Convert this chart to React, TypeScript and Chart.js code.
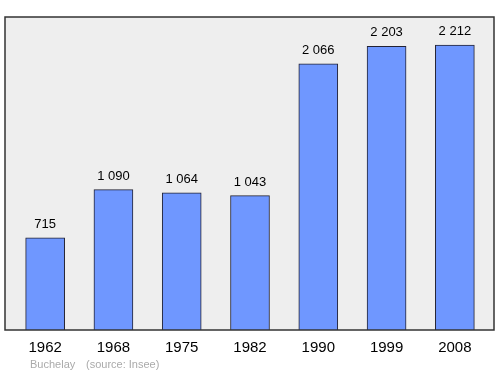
import React, { useEffect, useRef } from "react";
import { Chart, registerables } from "chart.js";

Chart.register(...registerables);

const categories = ["1962", "1968", "1975", "1982", "1990", "1999", "2008"];
const population = [715, 1090, 1064, 1043, 2066, 2203, 2212];
const valueLabels = ["715", "1 090", "1 064", "1 043", "2 066", "2 203", "2 212"];
const footerTexts = ["Buchelay", "(source: Insee)"];

const FONT = "'Liberation Sans', Arial, sans-serif";

const framePlugin = {
  id: "frame",
  beforeDatasetsDraw(chart: any) {
    const { ctx } = chart;
    ctx.save();
    ctx.fillStyle = "#eeeeee";
    ctx.fillRect(5, 17, 489, 313);
    ctx.restore();
  },
  afterDatasetsDraw(chart: any) {
    const { ctx } = chart;
    ctx.save();
    ctx.strokeStyle = "#333333";
    ctx.lineWidth = 1.5;
    ctx.strokeRect(5, 17, 489, 313);
    const meta = chart.getDatasetMeta(0);
    ctx.fillStyle = "#000000";
    ctx.font = `13px ${FONT}`;
    ctx.textAlign = "center";
    ctx.textBaseline = "alphabetic";
    meta.data.forEach((bar: any, i: number) => {
      ctx.fillText(valueLabels[i], bar.x, bar.y - 10);
    });
    ctx.fillStyle = "#aaaaaa";
    ctx.font = `11px ${FONT}`;
    ctx.textAlign = "left";
    ctx.fillText(footerTexts[0], 30, 368);
    ctx.fillText(footerTexts[1], 86, 368);
    ctx.restore();
  },
};

export default function App() {
  const ref = useRef<HTMLCanvasElement>(null);
  useEffect(() => {
    document.body.style.margin = "0";
    const chart = new Chart(ref.current!, {
      type: "bar",
      data: {
        labels: categories,
        datasets: [
          {
            data: population,
            backgroundColor: "#6f97ff",
            borderColor: "#222233",
            borderWidth: 1,
            barThickness: 39,
          },
        ],
      },
      options: {
        animation: false,
        responsive: false,
        layout: { padding: { left: 11, right: 11, top: 17, bottom: 16 } },
        plugins: { legend: { display: false }, tooltip: { enabled: false } },
        scales: {
          x: {
            offset: true,
            grid: { display: false },
            border: { display: false },
            ticks: { color: "#000", font: { size: 15, family: FONT }, padding: 1 },
          },
          y: { display: false, min: 0, max: 2430 },
        },
      },
      plugins: [framePlugin],
    });
    return () => chart.destroy();
  }, []);
  return <canvas ref={ref} width={500} height={374} style={{ display: "block" }} />;
}
